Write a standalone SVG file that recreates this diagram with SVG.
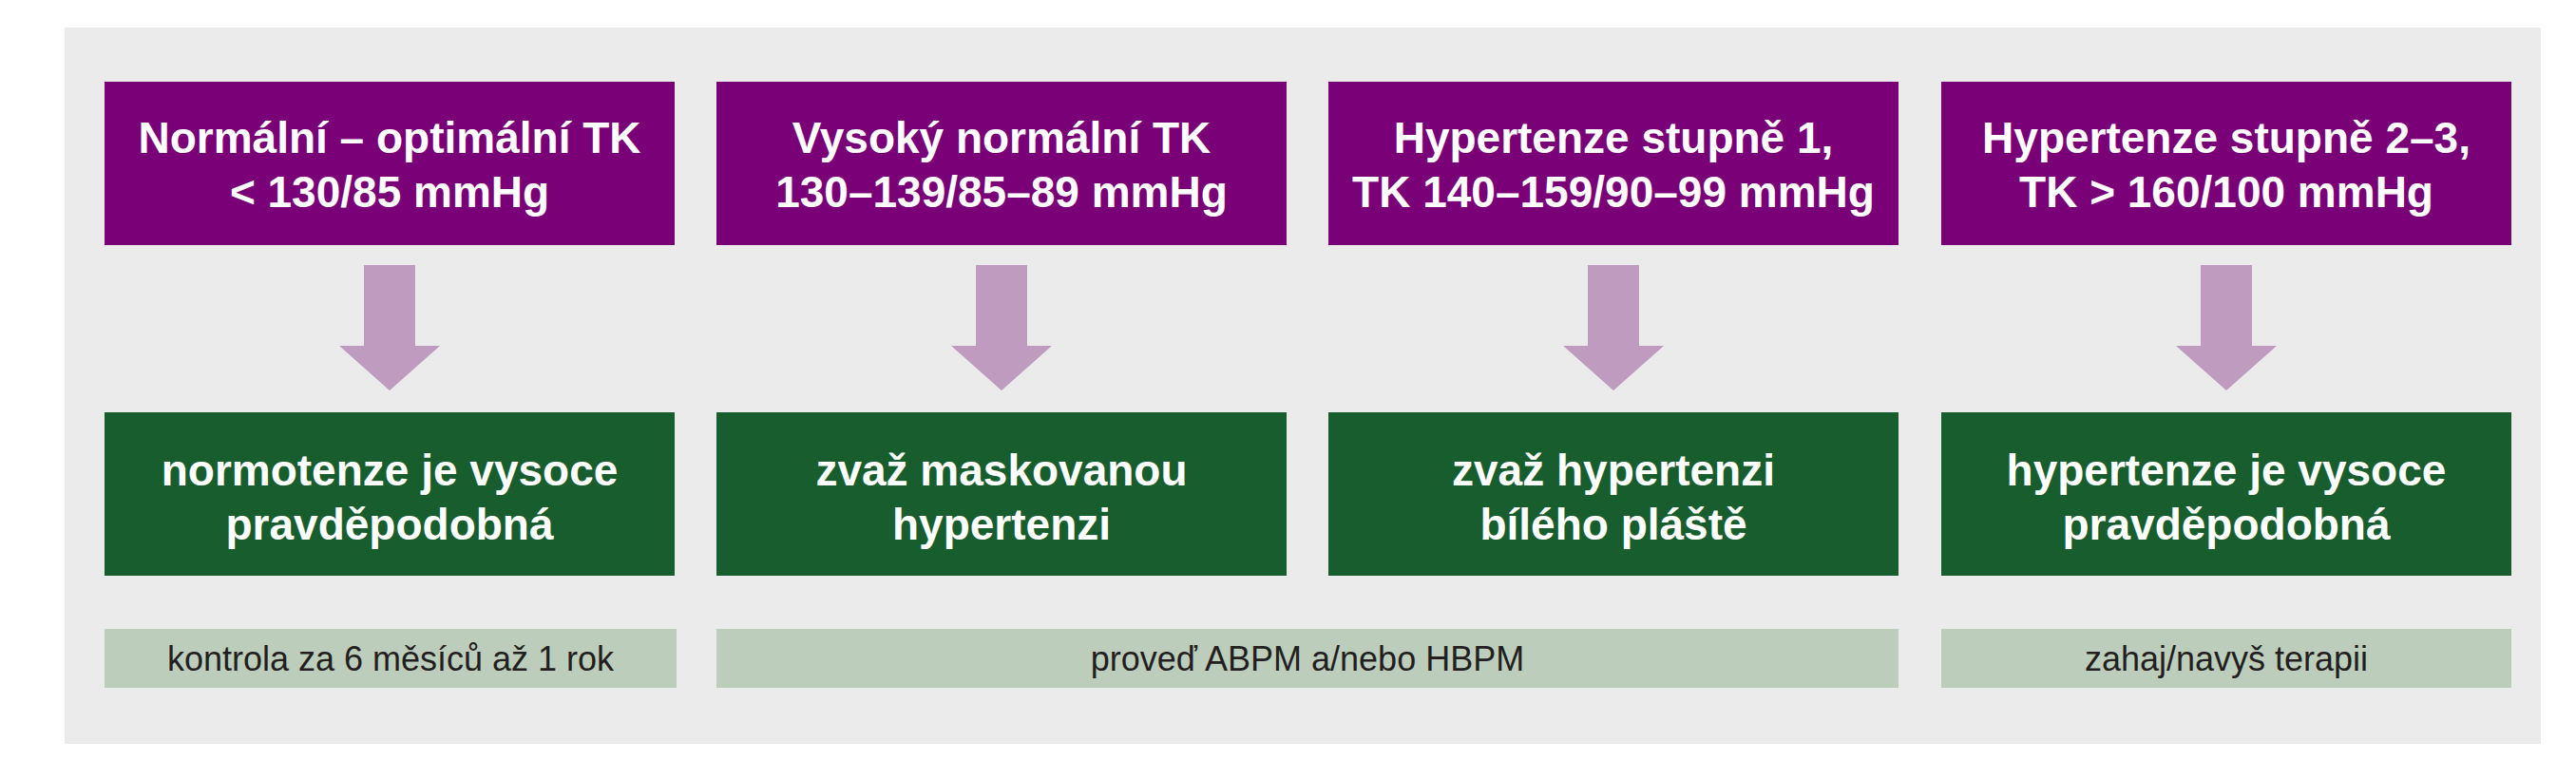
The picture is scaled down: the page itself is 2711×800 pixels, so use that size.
<svg xmlns="http://www.w3.org/2000/svg" width="2711" height="800" viewBox="0 0 2711 800">
<style>
.bg{fill:#ebebeb}
.top{fill:#7a0077}
.mid{fill:#175d2d}
.note{fill:#bdcdbb}
.arrow{fill:#bf9cbf}
.tt{font-family:"Liberation Sans",Arial,sans-serif;font-weight:bold;font-size:46px;fill:#ffffff;text-anchor:middle}
.nt{font-family:"Liberation Sans",Arial,sans-serif;font-size:36px;fill:#231f20;text-anchor:middle}
</style>
<rect width="2711" height="800" fill="#ffffff"/>
<rect class="bg" x="68" y="29" width="2606" height="754"/>
<g id="connectors">
<polygon class="arrow" points="383,279 437,279 437,364 463,364 410,411 357,364 383,364"/>
<polygon class="arrow" points="1027,279 1081,279 1081,364 1107,364 1054,411 1001,364 1027,364"/>
<polygon class="arrow" points="1671,279 1725,279 1725,364 1751,364 1698,411 1645,364 1671,364"/>
<polygon class="arrow" points="2316,279 2370,279 2370,364 2396,364 2343,411 2290,364 2316,364"/>
</g>
<g id="n1">
<rect class="top" x="110" y="86" width="600" height="172"/>
<text class="tt" x="410" y="161">Normální – optimální TK</text>
<text class="tt" x="410" y="218">&lt; 130/85 mmHg</text>
</g>
<g id="n2">
<rect class="top" x="754" y="86" width="600" height="172"/>
<text class="tt" x="1054" y="161">Vysoký normální TK</text>
<text class="tt" x="1054" y="218">130–139/85–89 mmHg</text>
</g>
<g id="n3">
<rect class="top" x="1398" y="86" width="600" height="172"/>
<text class="tt" x="1698" y="161">Hypertenze stupně 1,</text>
<text class="tt" x="1698" y="218">TK 140–159/90–99 mmHg</text>
</g>
<g id="n4">
<rect class="top" x="2043" y="86" width="600" height="172"/>
<text class="tt" x="2343" y="161">Hypertenze stupně 2–3,</text>
<text class="tt" x="2343" y="218">TK &gt; 160/100 mmHg</text>
</g>
<g id="r1">
<rect class="mid" x="110" y="434" width="600" height="172"/>
<text class="tt" x="410" y="511">normotenze je vysoce</text>
<text class="tt" x="410" y="568">pravděpodobná</text>
</g>
<g id="r2">
<rect class="mid" x="754" y="434" width="600" height="172"/>
<text class="tt" x="1054" y="511">zvaž maskovanou</text>
<text class="tt" x="1054" y="568">hypertenzi</text>
</g>
<g id="r3">
<rect class="mid" x="1398" y="434" width="600" height="172"/>
<text class="tt" x="1698" y="511">zvaž hypertenzi</text>
<text class="tt" x="1698" y="568">bílého pláště</text>
</g>
<g id="r4">
<rect class="mid" x="2043" y="434" width="600" height="172"/>
<text class="tt" x="2343" y="511">hypertenze je vysoce</text>
<text class="tt" x="2343" y="568">pravděpodobná</text>
</g>
<g id="a1">
<rect class="note" x="110" y="662" width="602" height="62"/>
<text class="nt" x="411" y="706">kontrola za 6 měsíců až 1 rok</text>
</g>
<g id="a2">
<rect class="note" x="754" y="662" width="1244" height="62"/>
<text class="nt" x="1376" y="706">proveď ABPM a/nebo HBPM</text>
</g>
<g id="a3">
<rect class="note" x="2043" y="662" width="600" height="62"/>
<text class="nt" x="2343" y="706">zahaj/navyš terapii</text>
</g>
</svg>
